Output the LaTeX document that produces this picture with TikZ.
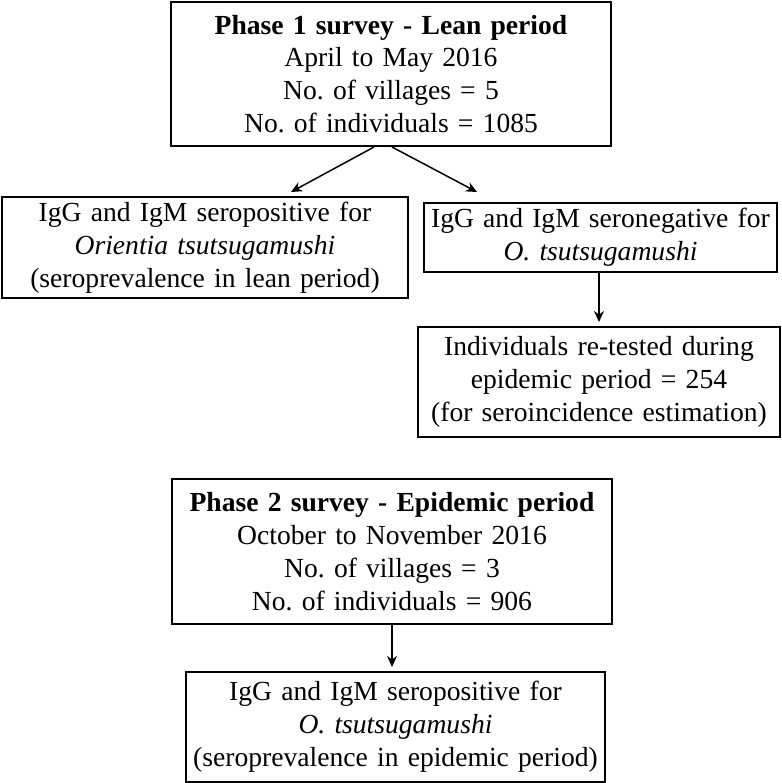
\documentclass[tikz,border=0pt]{standalone}
\usepackage{fontspec}
\setmainfont{Liberation Serif}
\usetikzlibrary{arrows.meta}
\frenchspacing
\tikzset{
  flowbox/.style={draw=black, line width=1pt, inner sep=0pt, align=center,
    font=\fontsize{13.8}{16.4}\selectfont\frenchspacing},
  arr/.style={line width=0.75pt, -{Stealth[length=5.5pt,width=5pt]}}
}
\begin{document}
\begin{tikzpicture}[x=0.5pt,y=-0.5pt]
\useasboundingbox (0,0) rectangle (782,783);
\node[flowbox, text width=220pt, minimum height=72pt] (p1) at (391,74)
  {\textbf{Phase 1 survey - Lean period}\\April to May 2016\\No. of villages = 5\\No. of individuals = 1085};
\node[flowbox, text width=203pt, minimum height=50.5pt] (pos1) at (205,247.5)
  {IgG and IgM seropositive for\\\textit{Orientia tsutsugamushi}\\(seroprevalence in lean period)};
\node[flowbox, text width=176.5pt, minimum height=34.5pt] (neg) at (600.5,237.5)
  {IgG and IgM seronegative for\\\textit{O. tsutsugamushi}};
\node[flowbox, text width=181pt, minimum height=55pt] (ret) at (599,382)
  {Individuals re-tested during\\epidemic period = 254\\(for seroincidence estimation)};
\node[flowbox, text width=220pt, minimum height=72.5pt] (p2) at (392,551.5)
  {\textbf{Phase 2 survey - Epidemic period}\\October to November 2016\\No. of villages = 3\\No. of individuals = 906};
\node[flowbox, text width=209.5pt, minimum height=55pt] (pos2) at (395.5,727)
  {IgG and IgM seropositive for\\\textit{O. tsutsugamushi}\\(seroprevalence in epidemic period)};
\draw[arr] ([xshift=-8.5pt]p1.south) -- ([xshift=43pt,yshift=2pt]pos1.north);
\draw[arr] ([xshift=0.5pt]p1.south) -- ([xshift=-61.75pt,yshift=5pt]neg.north);
\draw[arr] (ret.north |- neg.south) -- ([yshift=2pt]ret.north);
\draw[arr] (p2.south) -- ([yshift=2pt]p2.south |- pos2.north);
\end{tikzpicture}
\end{document}
